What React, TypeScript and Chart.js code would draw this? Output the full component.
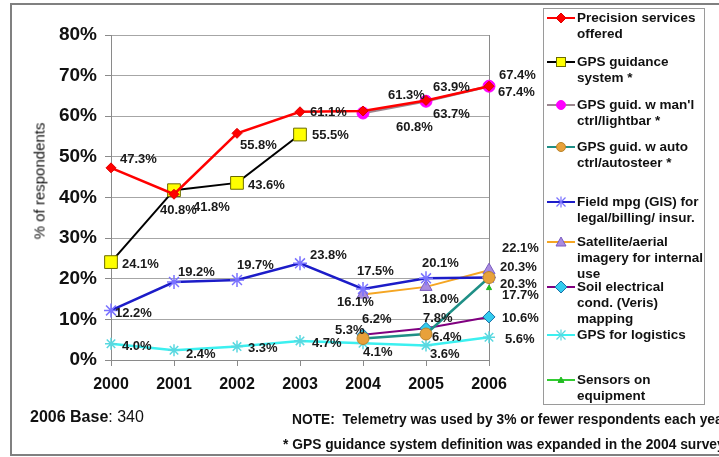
import React, { useEffect, useRef } from "react";
import { Chart, registerables } from "chart.js";

Chart.register(...registerables);

// ---------- DATA ----------
const years = ["2000", "2001", "2002", "2003", "2004", "2005", "2006"];
const yTickValues = [0, 10, 20, 30, 40, 50, 60, 70, 80];

const precisionServices = [47.3, 40.8, 55.8, 61.1, 61.3, 63.9, 67.4];
const gpsGuidance = [24.1, 41.8, 43.6, 55.5, null, null, null];
const gpsManual = [null, null, null, null, 60.8, 63.7, 67.4];
const gpsAuto = [null, null, null, null, 5.3, 6.4, 20.3];
const fieldMapping = [12.2, 19.2, 19.7, 23.8, 17.5, 20.1, 20.3];
const satelliteImagery = [null, null, null, null, 16.1, 18.0, 22.1];
const soilConductivity = [null, null, null, null, 6.2, 7.8, 10.6];
const gpsLogistics = [4.0, 2.4, 3.3, 4.7, 4.1, 3.6, 5.6];
const sensorsEquipment = [null, null, null, null, null, null, 17.7];

const seriesNames = [
  "Precision services\noffered",
  "GPS guidance\nsystem *",
  "GPS guid. w man'l\nctrl/lightbar *",
  "GPS guid. w auto\nctrl/autosteer *",
  "Field mpg (GIS) for\nlegal/billing/ insur.",
  "Satellite/aerial\nimagery for internal\nuse",
  "Soil electrical\ncond. (Veris)\nmapping",
  "GPS for logistics",
  "Sensors on\nequipment",
];

const seriesValues = [
  precisionServices,
  gpsGuidance,
  gpsManual,
  gpsAuto,
  fieldMapping,
  satelliteImagery,
  soilConductivity,
  gpsLogistics,
  sensorsEquipment,
];

// ---------- STYLES ----------
type Style = { line: string; shape: string; fill: string; stroke: string; r: number; w: number };
const seriesStyles: Style[] = [
  { line: "#ff0000", shape: "rectRot", fill: "#ff0000", stroke: "#e00000", r: 5, w: 2.5 },
  { line: "#000000", shape: "rect", fill: "#ffff00", stroke: "#6b6b00", r: 9, w: 2 },
  { line: "#9c8790", shape: "circle", fill: "#ff00ff", stroke: "#ff00ff", r: 6, w: 2.5 },
  { line: "#1f8f86", shape: "circle", fill: "#e8a13a", stroke: "#b8832a", r: 6, w: 2.5 },
  { line: "#1c1cc8", shape: "star", fill: "#7a72ff", stroke: "#7a72ff", r: 7, w: 2.5 },
  { line: "#f5a623", shape: "triangle", fill: "#a98be0", stroke: "#7b5cc0", r: 7, w: 2 },
  { line: "#800080", shape: "rectRot", fill: "#33ccee", stroke: "#1a70a8", r: 6, w: 2 },
  { line: "#3cf0f0", shape: "star", fill: "#5ad8e0", stroke: "#5ad8e0", r: 6, w: 2.5 },
  { line: "#33cc33", shape: "triangle", fill: "#22bb22", stroke: "#22bb22", r: 3, w: 1.5 },
];

// label offsets (dx to text left, dy to text middle) relative to each point
const labelOffsets: ([number, number] | null)[][] = [
  [[9, -8], [-14, 16], [3, 12], [10, 1], [25, -16], [7, -13], [10, -11]],
  [[11, 2], [19, 17], [11, 3], [12, 1], null, null, null],
  [null, null, null, null, [33, 14], [7, 13], [9, 6]],
  [null, null, null, null, [-28, -8], [6, 3], [11, 7]],
  [[4, 3], [4, -10], [0, -15], [10, -8], [-6, -17], [-4, -15], [11, -10]],
  [null, null, null, null, [-26, 8], [-4, 13], [13, -22]],
  [null, null, null, null, [-1, -15], [-3, -10], [13, 1]],
  [[11, 3], [12, 4], [11, 2], [12, 3], [0, 9], [4, 9], [16, 2]],
  [null, null, null, null, null, null, [13, 7]],
];

const legendCenters = [18, 62, 105, 147, 202, 242, 287, 335, 380];

const FONT = "'Liberation Sans', Arial, Helvetica, sans-serif";

const dataLabelPlugin = {
  id: "dataLabels",
  afterDatasetsDraw(chart: any) {
    const ctx = chart.ctx;
    ctx.save();
    ctx.font = `bold 13px ${FONT}`;
    ctx.fillStyle = "#1a1a1a";
    ctx.textAlign = "left";
    ctx.textBaseline = "middle";
    chart.data.datasets.forEach((ds: any, i: number) => {
      const meta = chart.getDatasetMeta(i);
      ds.data.forEach((v: number | null, j: number) => {
        const off = labelOffsets[i][j];
        if (v === null || v === undefined || !off) return;
        const pt = meta.data[j];
        ctx.fillText(v.toFixed(1) + "%", pt.x + off[0], pt.y + off[1]);
      });
    });
    ctx.restore();
  },
};

const frameLinePlugin = {
  id: "frameLine",
  beforeDatasetsDraw(chart: any) {
    const { ctx, chartArea } = chart;
    ctx.save();
    ctx.strokeStyle = "#8a8a8a";
    ctx.lineWidth = 1;
    ctx.beginPath();
    ctx.moveTo(Math.round(chartArea.right) + 0.5, chartArea.top);
    ctx.lineTo(Math.round(chartArea.right) + 0.5, chartArea.bottom);
    ctx.stroke();
    ctx.restore();
  },
};

function Marker({ s }: { s: Style }) {
  const cx = 14, cy = 8;
  let shape: React.ReactNode = null;
  const r = Math.min(s.r, 6);
  if (s.shape === "rectRot") {
    shape = <polygon points={`${cx - r},${cy} ${cx},${cy - r} ${cx + r},${cy} ${cx},${cy + r}`} fill={s.fill} stroke={s.stroke} strokeWidth={1} />;
  } else if (s.shape === "rect") {
    shape = <rect x={cx - 4.5} y={cy - 4.5} width={9} height={9} fill={s.fill} stroke={s.stroke} strokeWidth={1} />;
  } else if (s.shape === "circle") {
    shape = <circle cx={cx} cy={cy} r={4.5} fill={s.fill} stroke={s.stroke} strokeWidth={1} />;
  } else if (s.shape === "triangle") {
    const t = s.r > 4 ? 5 : 3;
    shape = <polygon points={`${cx - t},${cy + t * 0.8} ${cx},${cy - t} ${cx + t},${cy + t * 0.8}`} fill={s.fill} stroke={s.stroke} strokeWidth={1} />;
  } else if (s.shape === "star") {
    const a = 4.5;
    shape = (
      <g stroke={s.stroke} strokeWidth={1.2}>
        <line x1={cx - a} y1={cy - a} x2={cx + a} y2={cy + a} />
        <line x1={cx - a} y1={cy + a} x2={cx + a} y2={cy - a} />
        <line x1={cx} y1={cy - a - 1} x2={cx} y2={cy + a + 1} />
      </g>
    );
  }
  return (
    <svg width={28} height={16} style={{ position: "absolute", left: 547, top: 0 }}>
      <line x1={0} y1={cy} x2={28} y2={cy} stroke={s.line} strokeWidth={2} />
      {shape}
    </svg>
  );
}

export default function App() {
  const canvasRef = useRef<HTMLCanvasElement | null>(null);

  useEffect(() => {
    if (!canvasRef.current) return;
    const datasets = seriesValues.map((vals, i) => {
      const s = seriesStyles[i];
      return {
        label: seriesNames[i].replace(/\n/g, " "),
        data: vals,
        borderColor: s.line,
        borderWidth: s.w,
        backgroundColor: s.fill,
        pointStyle: s.shape,
        pointRadius: s.r,
        pointBackgroundColor: s.fill,
        pointBorderColor: s.stroke,
        pointBorderWidth: s.shape === "star" ? 1.5 : 1,
        tension: 0,
        spanGaps: false,
        fill: false,
      };
    });

    const chart = new Chart(canvasRef.current, {
      type: "line",
      data: { labels: years, datasets },
      options: {
        responsive: false,
        animation: false,
        layout: { padding: { left: 0, top: 35, right: 230, bottom: 0 } },
        plugins: {
          legend: { display: false },
          tooltip: { enabled: false },
          title: { display: false },
        },
        scales: {
          x: {
            offset: false,
            grid: {
              drawOnChartArea: false,
              drawTicks: true,
              tickLength: 6,
              tickColor: "#8a8a8a",
            },
            border: { display: true, color: "#8a8a8a", width: 1 },
            ticks: {
              color: "#111",
              font: { family: FONT, size: 16, weight: "bold" },
              padding: 9,
              maxRotation: 0,
              autoSkip: false,
            },
            afterFit(scale: any) {
              scale.height = 97;
            },
          },
          y: {
            min: 0,
            max: 80,
            afterBuildTicks(scale: any) {
              scale.ticks = yTickValues.map((v) => ({ value: v }));
            },
            grid: {
              color: "#a6a6a6",
              lineWidth: 1,
              drawTicks: true,
              tickLength: 6,
              tickColor: "#8a8a8a",
            },
            border: { display: true, color: "#8a8a8a", width: 1 },
            ticks: {
              color: "#111",
              font: { family: FONT, size: 19, weight: "bold" },
              padding: 8,
              callback: (v: any) => v + "%",
            },
            afterFit(scale: any) {
              scale.width = 111;
            },
          },
        },
      },
      plugins: [frameLinePlugin, dataLabelPlugin],
    } as any);
    return () => chart.destroy();
  }, []);

  return (
    <div
      style={{
        position: "fixed",
        left: 0,
        top: 0,
        width: 719,
        height: 457,
        overflow: "hidden",
        background: "#fff",
        fontFamily: FONT,
      }}
    >
      <div
        style={{
          position: "absolute",
          left: 10,
          top: 3,
          width: 760,
          height: 453,
          border: "2px solid #808080",
          boxSizing: "border-box",
        }}
      />
      <canvas ref={canvasRef} width={719} height={457} style={{ position: "absolute", left: 0, top: 0 }} />
      <div
        style={{
          position: "absolute",
          left: 39,
          top: 181,
          transform: "translate(-50%, -50%) rotate(-90deg)",
          fontSize: 15,
          color: "#111",
          whiteSpace: "nowrap",
        }}
      >
        % of respondents
      </div>
      <div
        style={{
          position: "absolute",
          left: 543,
          top: 8,
          width: 162,
          height: 397,
          border: "1px solid #9a9a9a",
          boxSizing: "border-box",
        }}
      />
      {seriesNames.map((name, i) => (
        <div key={i} style={{ position: "absolute", left: 0, top: legendCenters[i] - 8 }}>
          <Marker s={seriesStyles[i]} />
          <div
            style={{
              position: "absolute",
              left: 577,
              top: 0,
              fontSize: 13.5,
              fontWeight: "bold",
              lineHeight: "16px",
              whiteSpace: "pre",
              color: "#111",
            }}
          >
            {name}
          </div>
        </div>
      ))}
      <div
        style={{
          position: "absolute",
          left: 30,
          top: 417,
          transform: "translateY(-50%)",
          fontSize: 16,
          lineHeight: "18px",
          whiteSpace: "nowrap",
          color: "#111",
        }}
      >
        <b>2006 Base</b>: 340
      </div>
      <div
        style={{
          position: "absolute",
          left: 292,
          top: 420,
          transform: "translateY(-50%)",
          fontSize: 13.8,
          fontWeight: "bold",
          lineHeight: "16px",
          whiteSpace: "nowrap",
          color: "#111",
        }}
      >
        NOTE:&nbsp; Telemetry was used by 3% or fewer respondents each year
      </div>
      <div
        style={{
          position: "absolute",
          left: 283,
          top: 445,
          transform: "translateY(-50%)",
          fontSize: 13.8,
          fontWeight: "bold",
          lineHeight: "16px",
          whiteSpace: "nowrap",
          color: "#111",
        }}
      >
        * GPS guidance system definition was expanded in the 2004 survey
      </div>
    </div>
  );
}
